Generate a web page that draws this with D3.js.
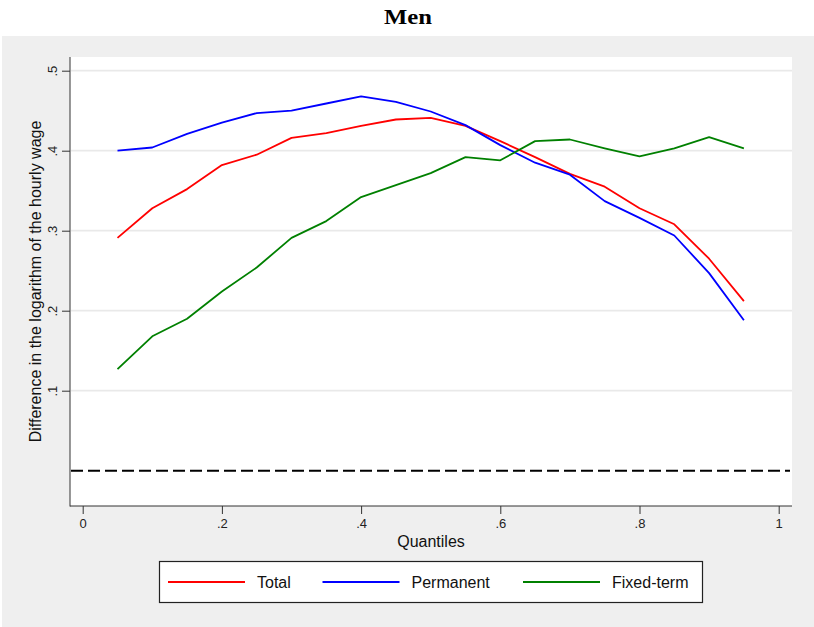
<!DOCTYPE html>
<html>
<head>
<meta charset="utf-8">
<script src="https://cdn.jsdelivr.net/npm/d3@7"></script>
<style>
  body { margin: 0; background: #fff; }
  svg { display: block; font-family: "Liberation Sans", Arial, sans-serif; }
</style>
</head>
<body>
<div id="chart"></div>
<script>
// quantile curves, men
var quantiles = [0.05, 0.10, 0.15, 0.20, 0.25, 0.30, 0.35, 0.40, 0.45, 0.50,
                 0.55, 0.60, 0.65, 0.70, 0.75, 0.80, 0.85, 0.90, 0.95];
var total     = [0.291, 0.328, 0.352, 0.382, 0.395, 0.416, 0.422, 0.431, 0.439, 0.441,
                 0.431, 0.412, 0.392, 0.371, 0.355, 0.328, 0.308, 0.265, 0.212];
var permanent = [0.400, 0.404, 0.421, 0.435, 0.447, 0.450, 0.459, 0.468, 0.461, 0.449,
                 0.432, 0.407, 0.385, 0.370, 0.337, 0.316, 0.294, 0.247, 0.188];
var fixedTerm = [0.127, 0.168, 0.190, 0.224, 0.254, 0.291, 0.312, 0.342, 0.357, 0.372,
                 0.392, 0.388, 0.412, 0.414, 0.403, 0.393, 0.403, 0.417, 0.403];
var xTicks = [0, 0.2, 0.4, 0.6, 0.8, 1];
var xTickLabels = ["0", ".2", ".4", ".6", ".8", "1"];
var yTicks = [0.1, 0.2, 0.3, 0.4, 0.5];
var yTickLabels = [".1", ".2", ".3", ".4", ".5"];
var seriesNames = ["Total", "Permanent", "Fixed-term"];
var seriesColors = ["#ff0000", "#0000ff", "#008000"];
var refLine = 0;

var W = 814, H = 627;
var plot = {left: 70, right: 792, top: 57, bottom: 506};

var svg = d3.select("#chart").append("svg")
    .attr("width", W)
    .attr("height", H);

// outer graph region
svg.append("rect")
    .attr("x", 2).attr("y", 36)
    .attr("width", W - 2).attr("height", H - 36)
    .attr("fill", "#efefef");

svg.append("rect")
    .attr("x", plot.left).attr("y", plot.top)
    .attr("width", plot.right - plot.left).attr("height", plot.bottom - plot.top)
    .attr("fill", "#fff");

var x = d3.scaleLinear().domain([0, 1]).range([82.7, 778.7]);
var y = d3.scaleLinear().domain([0, 0.5]).range([470.7, 70.7]);

// title
svg.append("text")
    .attr("x", 408).attr("y", 24)
    .attr("text-anchor", "middle")
    .style("font-family", "'Liberation Serif', 'Times New Roman', serif")
    .style("font-weight", "bold")
    .style("font-size", "21px")
    .attr("textLength", 48)
    .attr("lengthAdjust", "spacingAndGlyphs")
    .text("Men");

// grid
svg.append("g").selectAll("line")
    .data(yTicks).enter().append("line")
    .attr("x1", plot.left + 1).attr("x2", plot.right)
    .attr("y1", function(d){ return y(d); })
    .attr("y2", function(d){ return y(d); })
    .attr("stroke", "#e9e9e9")
    .attr("stroke-width", 1.8);

// y axis
var yAxis = d3.axisLeft(y)
    .tickValues(yTicks)
    .tickSize(8)
    .tickFormat(function(d, i){ return yTickLabels[i]; });
var gy = svg.append("g")
    .attr("transform", "translate(" + plot.left + ",0)")
    .call(yAxis);
gy.select(".domain").remove();
gy.append("line")
    .attr("x1", 0).attr("x2", 0)
    .attr("y1", plot.top).attr("y2", plot.bottom + 0.5)
    .attr("stroke", "#333");
gy.selectAll(".tick line").attr("stroke", "#333");
gy.selectAll(".tick text")
    .attr("x", 0).attr("dy", 0)
    .attr("transform", "translate(-13,0) rotate(-90)")
    .attr("text-anchor", "middle")
    .style("font-size", "13px")
    .attr("fill", "#222");

// x axis
var xAxis = d3.axisBottom(x)
    .tickValues(xTicks)
    .tickSize(8)
    .tickFormat(function(d, i){ return xTickLabels[i]; });
var gx = svg.append("g")
    .attr("transform", "translate(0," + plot.bottom + ")")
    .call(xAxis);
gx.select(".domain").remove();
gx.append("line")
    .attr("x1", plot.left).attr("x2", plot.right)
    .attr("y1", 0).attr("y2", 0)
    .attr("stroke", "#333");
gx.selectAll(".tick line").attr("stroke", "#333");
gx.selectAll(".tick text")
    .attr("y", 13)
    .style("font-size", "13px")
    .attr("fill", "#222");

// axis titles
svg.append("text")
    .attr("transform", "translate(41," + ((plot.top + plot.bottom) / 2) + ") rotate(-90)")
    .attr("text-anchor", "middle")
    .style("font-size", "16px")
    .attr("fill", "#111")
    .text("Difference in the logarithm of the hourly wage");

svg.append("text")
    .attr("x", (plot.left + plot.right) / 2).attr("y", 547)
    .attr("text-anchor", "middle")
    .style("font-size", "16px")
    .attr("fill", "#111")
    .text("Quantiles");

// zero reference line
svg.append("line")
    .attr("x1", plot.left + 1).attr("x2", plot.right - 2)
    .attr("y1", y(refLine)).attr("y2", y(refLine))
    .attr("stroke", "#000")
    .attr("stroke-width", 2)
    .attr("stroke-dasharray", "12,5");

// series
var allSeries = [total, permanent, fixedTerm];
var line = d3.line()
    .x(function(d, i){ return x(quantiles[i]); })
    .y(function(d){ return y(d); });

svg.append("g").selectAll("path")
    .data(allSeries).enter().append("path")
    .attr("d", line)
    .attr("fill", "none")
    .attr("stroke", function(d, i){ return seriesColors[i]; })
    .attr("stroke-width", 1.8)
    .attr("stroke-linejoin", "round");

// legend
var legend = svg.append("g");
legend.append("rect")
    .attr("x", 159.5).attr("y", 561.5)
    .attr("width", 543).attr("height", 41)
    .attr("fill", "#fff")
    .attr("stroke", "#222")
    .attr("stroke-width", 1.2);

var legendX = [168, 322.5, 523];
var item = legend.selectAll("g.item")
    .data(seriesNames).enter().append("g")
    .attr("class", "item")
    .attr("transform", function(d, i){ return "translate(" + legendX[i] + ",582)"; });
item.append("line")
    .attr("x1", 0).attr("x2", 77)
    .attr("y1", 0).attr("y2", 0)
    .attr("stroke", function(d, i){ return seriesColors[i]; })
    .attr("stroke-width", 1.8);
item.append("text")
    .attr("x", 89).attr("y", 6)
    .style("font-size", "16px")
    .attr("fill", "#111")
    .text(function(d){ return d; });
</script>
</body>
</html>
